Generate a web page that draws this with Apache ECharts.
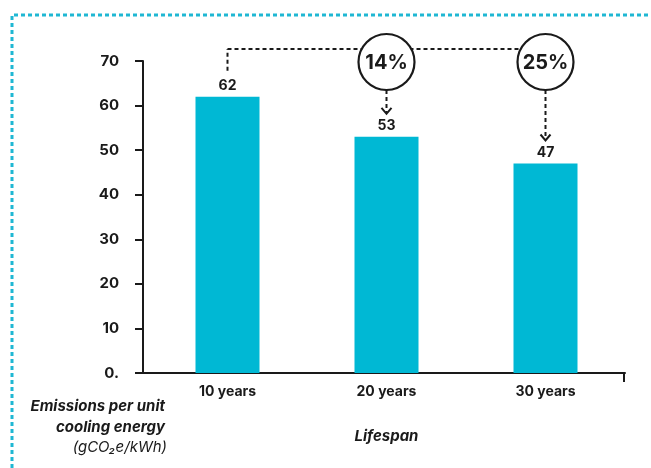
<!DOCTYPE html>
<html>
<head>
<meta charset="utf-8">
<script src="https://cdn.jsdelivr.net/npm/echarts@6/dist/echarts.min.js"></script>
<style>
  html, body { margin: 0; padding: 0; background: #fff; }
  #chart { width: 651px; height: 468px; }
</style>
</head>
<body>
<div id="chart"></div>
<script>
// Emissions per unit of cooling energy by equipment lifespan
const categories = ['10 years', '20 years', '30 years'];
const emissions = [62, 53, 47];
// Reduction versus the 10-year case, shown over bars 2 and 3
const reductions = ['14%', '25%'];
const yMin = 0, yMax = 70, yStep = 10;

const FONT = 'Inter, "Noto Sans", sans-serif';
const INK = '#1a1a1a';
const BAR = '#00b8d4';
const FRAME = '#1fb7d3';

const chart = echarts.init(document.getElementById('chart'), null, { renderer: 'canvas' });

const grid = { left: 148, right: 26, top: 61, bottom: 95 };
const yAxisGap = 5; // value axis sits a little left of the category axis start

chart.setOption({
  animation: false,
  grid: grid,
  xAxis: {
    type: 'category',
    data: categories,
    axisLine: { lineStyle: { color: INK, width: 2 } },
    axisTick: { alignWithLabel: true, length: 8, lineStyle: { color: INK, width: 2 } },
    axisLabel: { color: INK, fontFamily: FONT, fontWeight: 'bold', fontSize: 14, margin: 12 }
  },
  yAxis: {
    type: 'value',
    min: yMin, max: yMax, interval: yStep,
    offset: yAxisGap,
    splitLine: { show: false },
    axisLine: { show: true, lineStyle: { color: INK, width: 2 } },
    axisTick: { show: true, length: 8, lineStyle: { color: INK, width: 2 } },
    axisLabel: {
      color: INK, fontFamily: FONT, fontWeight: 'bold', fontSize: 15, margin: 24,
      formatter: v => (v === 0 ? '0.' : String(v))
    }
  },
  series: [{
    type: 'bar',
    data: emissions,
    barWidth: 64,
    itemStyle: { color: BAR },
    label: {
      show: true, position: 'top', distance: 4,
      color: INK, fontFamily: FONT, fontWeight: 'bold', fontSize: 14
    }
  }]
});

function drawOverlay() {
  const W = chart.getWidth(), H = chart.getHeight();
  const pt = (i, v) => chart.convertToPixel({ seriesIndex: 0 }, [i, v]);
  const base = pt(0, 0)[1];
  const top = pt(0, yMax)[1];
  const axisLeft = grid.left - yAxisGap;
  const axisRight = W - grid.right;
  const dash = { stroke: INK, lineWidth: 2, lineDash: [4, 3] };
  const solid = { stroke: INK, lineWidth: 2 };

  const els = [];

  // dotted frame along the top and left edges
  els.push({
    type: 'polyline', silent: true,
    shape: { points: [[12, H], [12, 15], [W, 15]] },
    style: { stroke: FRAME, lineWidth: 3, lineDash: [4, 3], fill: null }
  });

  // join the category axis to the offset value axis
  els.push({ type: 'line', shape: { x1: axisLeft, y1: base, x2: grid.left, y2: base }, style: solid });
  // closing tick at the right end of the category axis
  els.push({ type: 'line', shape: { x1: axisRight - 1, y1: base, x2: axisRight - 1, y2: base + 9 }, style: solid });

  // bracket from the first bar to the reduction circles
  const p0 = pt(0, emissions[0]);
  const bracketY = top - 12;
  const circleY = top + 1;
  const R = 28;
  const last = pt(emissions.length - 1, emissions[emissions.length - 1]);
  els.push({ type: 'line', shape: { x1: p0[0], y1: p0[1] - 26, x2: p0[0], y2: bracketY }, style: dash });
  els.push({ type: 'line', shape: { x1: p0[0], y1: bracketY, x2: last[0], y2: bracketY }, style: dash });

  reductions.forEach((txt, k) => {
    const i = k + 1;
    const p = pt(i, emissions[i]);
    const tipY = p[1] - 23;
    // dashed drop line with an open arrow head
    els.push({ type: 'line', shape: { x1: p[0], y1: circleY + R, x2: p[0], y2: tipY - 1 }, style: dash });
    els.push({
      type: 'polyline',
      shape: { points: [[p[0] - 5, tipY - 6], [p[0], tipY], [p[0] + 5, tipY - 6]] },
      style: { stroke: INK, lineWidth: 2, fill: null }
    });
    els.push({
      type: 'circle', z: 10,
      shape: { cx: p[0], cy: circleY, r: R },
      style: { fill: '#fff', stroke: INK, lineWidth: 2.2 }
    });
    els.push({
      type: 'text', z: 11,
      x: p[0], y: circleY + 1,
      style: {
        text: txt, fill: INK, align: 'center', verticalAlign: 'middle',
        font: 'bold 20px ' + FONT
      }
    });
  });

  // axis titles
  els.push({
    type: 'text', x: 165, y: 406,
    style: { text: 'Emissions per unit', fill: INK, align: 'right', verticalAlign: 'middle', font: 'italic bold 15px ' + FONT }
  });
  els.push({
    type: 'text', x: 165, y: 427,
    style: { text: 'cooling energy', fill: INK, align: 'right', verticalAlign: 'middle', font: 'italic bold 15px ' + FONT }
  });
  els.push({
    type: 'text', x: 167, y: 447,
    style: { text: '(gCO₂e/kWh)', fill: INK, align: 'right', verticalAlign: 'middle', font: 'italic 15px ' + FONT }
  });
  const mid = pt(1, 0)[0];
  els.push({
    type: 'text', x: mid, y: 436,
    style: { text: 'Lifespan', fill: INK, align: 'center', verticalAlign: 'middle', font: 'italic bold 15px ' + FONT }
  });

  chart.setOption({ graphic: { elements: els } });
}

drawOverlay();
</script>
</body>
</html>
